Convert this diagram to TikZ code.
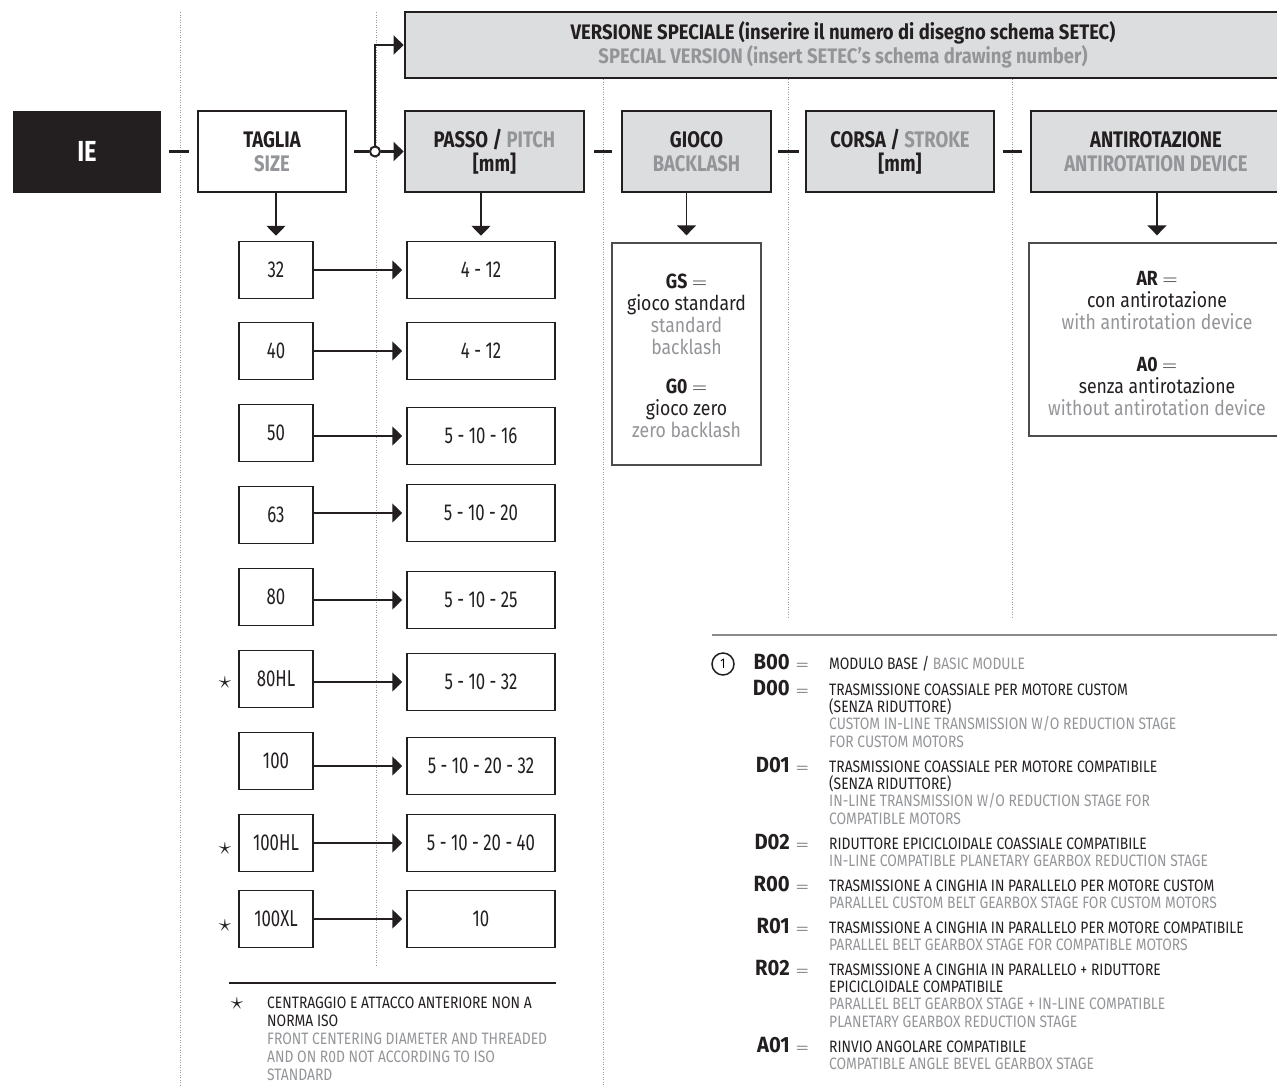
\documentclass[tikz,border=0pt]{standalone}
\usepackage{fontspec}
\setmainfont{Fira Sans}[FakeStretch=0.82]
\newfontfamily\hfont{Fira Sans}[FakeStretch=0.82]
\newfontfamily\sfont{Fira Sans}[FakeStretch=0.88]
\newfontfamily\vfont{Fira Sans}[FakeStretch=0.73]
\newfontfamily\gfont{Fira Sans}[FakeStretch=0.86]
\newfontfamily\lfont{Fira Sans}[FakeStretch=0.84]
\newfontfamily\cfont{Fira Sans}[FakeStretch=0.92]
\usetikzlibrary{arrows.meta,calc}
\definecolor{ink}{HTML}{231F20}
\definecolor{gtxt}{HTML}{939598}
\definecolor{boxfill}{HTML}{DCDDDE}
\definecolor{dotc}{HTML}{9A9A9A}
\definecolor{legc}{HTML}{8A8A8A}
\newcommand\legent[4]{%
  \node[codetxt, anchor=base east] (c#1) at (790,#3) {#2};
  \node[eqtxt, anchor=base west] (e#1) at (796,#3) {$=$};
  \node[legtxt, anchor=base west] (t#1) at (829,#3) {\parbox[t]{450pt}{\lfont\fontsize{16.5}{17.4}\selectfont\raggedright #4}};%
}
\begin{document}
\begin{tikzpicture}[x=1pt,y=-1pt,
  hdr/.style={draw=ink, line width=2.8pt, fill=boxfill, align=center, inner sep=0pt, text=ink, font=\hfont\bfseries\fontsize{22.5}{24}\selectfont},
  vbox/.style={draw=ink, line width=1.5pt, fill=white, inner sep=0pt, text=ink, font=\vfont\fontsize{23}{24}\selectfont},
  gbox/.style={draw=ink!80, line width=1.3pt, fill=white, inner sep=0pt},
  gtext/.style={align=center, inner sep=0pt, text=ink, font=\gfont\fontsize{20.5}{22}\selectfont},
  hdash/.style={draw=ink, line width=2.5pt},
  harrow/.style={draw=ink, line width=2.6pt, -{Triangle[length=10pt,width=19pt]}},
  varrow/.style={draw=ink, line width=1.6pt, -{Triangle[length=10pt,width=19pt]}},
  dotline/.style={draw=dotc, line width=0.9pt, dash pattern=on 0.9pt off 1.6pt},
  starmark/.style={inner sep=0pt, text=ink, font=\fontsize{27}{27}\selectfont},
  codetxt/.style={inner sep=0pt, text=ink, font=\cfont\bfseries\fontsize{22}{22}\selectfont},
  eqtxt/.style={inner sep=0pt, text=ink, font=\fontsize{17}{17}\selectfont},
  legtxt/.style={inner sep=0pt, text=ink}
]
\useasboundingbox (0,0) rectangle (1277,1085);

% dotted guide lines
\draw[dotline] (180,12) -- (180,1085);
\draw[dotline] (376,12) -- (376,965);
\draw[dotline] (603,79) -- (603,1085);
\draw[dotline] (788,79) -- (788,618);
\draw[dotline] (1012,79) -- (1012,618);

% header row
\node[fill=ink, minimum width=148, minimum height=82, inner sep=0pt, text=white, font=\hfont\bfseries\fontsize{29}{30}\selectfont] (ie) at (87,151.5) {IE};
\node[hdr, fill=white, minimum width=148, minimum height=81] (taglia) at (272,151.5) {TAGLIA\\{\color{gtxt}SIZE}};
\node[hdr, minimum width=179, minimum height=81] (passo) at (494.5,151.5) {PASSO / {\color{gtxt}PITCH}\\{[mm]}};
\node[hdr, minimum width=149, minimum height=81] (gioco) at (696.5,151.5) {GIOCO\\{\color{gtxt}BACKLASH}};
\node[hdr, minimum width=188, minimum height=81] (corsa) at (900,151.5) {CORSA / {\color{gtxt}STROKE}\\{[mm]}};
\node[hdr, minimum width=250, minimum height=81] (anti) at (1156,151.5) {ANTIROTAZIONE\\{\color{gtxt}ANTIROTATION DEVICE}};
\node[hdr, minimum width=876, minimum height=66, font=\sfont\bfseries\fontsize{21}{21}\selectfont] (spec) at (843,45) {VERSIONE SPECIALE (inserire il numero di disegno schema SETEC)\\{\color{gtxt}SPECIAL VERSION (insert SETEC’s schema drawing number)}};

\node[circle, draw=ink, line width=2pt, fill=white, minimum size=10pt, inner sep=0pt] (jn) at (375,151.5) {};

\draw[hdash, shorten <=8pt, shorten >=8pt] (ie) -- (taglia);
\draw[hdash, shorten <=7pt] (taglia) -- (jn);
\draw[harrow] (jn) -- (passo);
\draw[harrow] (jn) |- (spec);
\draw[hdash, shorten <=9pt, shorten >=9pt] (passo) -- (gioco);
\draw[hdash, shorten <=6pt, shorten >=6pt] (gioco) -- (corsa);
\draw[hdash, shorten <=8pt, shorten >=8pt] (corsa) -- (anti);

% size column
\foreach \n/\y/\t in {1/270/32, 2/351/40, 3/433/50, 4/515/63, 5/597/80, 6/679/80HL, 7/761/100, 8/843/100HL, 9/919/100XL}
  \node[vbox, minimum width=74, minimum height=57] (s\n) at (276,\y) {\t};
% pitch column
\foreach \n/\y/\t in {1/270/4 - 12, 2/351/4 - 12, 3/436/5 - 10 - 16, 4/513/5 - 10 - 20, 5/600/5 - 10 - 25, 6/682/5 - 10 - 32, 7/766/5 - 10 - 20 - 32, 8/843/5 - 10 - 20 - 40, 9/919/10}
  \node[vbox, minimum width=148, minimum height=57] (p\n) at (481,\y) {\t};
\foreach \n in {1,...,9}
  \draw[varrow, shorten >=4pt] (s\n.east |- p\n.west) -- (p\n.west);

% stars
\node[starmark] (st6) at (225,683) {$\star$};
\node[starmark] (st8) at (225,849) {$\star$};
\node[starmark] (st9) at (225,926) {$\star$};

% backlash and antirotation value boxes
\node[gbox, minimum width=149, minimum height=222] (gs) at (686.5,354) {};
\node[gbox, minimum width=256, minimum height=193] (ar) at (1157,339.5) {};
\node[gtext] (gst) at (686.5,314) {{\bfseries GS} $=$\\gioco standard\\{\color{gtxt}standard}\\{\color{gtxt}backlash}};
\node[gtext] (g0t) at (686.5,408.5) {{\bfseries G0} $=$\\gioco zero\\{\color{gtxt}zero backlash}};
\node[gtext] (art) at (1157,301) {{\bfseries AR} $=$\\con antirotazione\\{\color{gtxt}with antirotation device}};
\node[gtext] (a0t) at (1157,386.5) {{\bfseries A0} $=$\\senza antirotazione\\{\color{gtxt}without antirotation device}};

% down arrows
\draw[varrow, shorten >=5pt] (s1.north |- taglia.south) -- (s1.north);
\draw[varrow, shorten >=5pt] (p1.north |- passo.south) -- (p1.north);
\draw[varrow, shorten >=7pt] (gs.north |- gioco.south) -- (gs.north);
\draw[varrow, shorten >=7pt] (ar.north |- anti.south) -- (ar.north);

% footnote
\coordinate (fl1) at (229,983);
\coordinate (fl2) at (556,983);
\draw[draw=ink, line width=1.3pt] (fl1) -- (fl2);
\node[starmark] (fst) at (237,1004) {$\star$};
\node[legtxt, anchor=base west] (fnt) at (267,1008) {\parbox[t]{330pt}{\lfont\fontsize{16.5}{18}\selectfont\raggedright CENTRAGGIO E ATTACCO ANTERIORE NON A\\NORMA ISO\\{\color{gtxt}FRONT CENTERING DIAMETER AND THREADED\\AND ON R0D NOT ACCORDING TO ISO\\STANDARD}}};

% legend
\coordinate (ll1) at (712,635);
\coordinate (ll2) at (1290,635);
\draw[draw=legc, line width=2.2pt] (ll1) -- (ll2);
\node[circle, draw=ink, line width=1.5pt, minimum size=22pt, inner sep=0pt, font=\lfont\fontsize{14}{14}\selectfont] (one) at (723,664) {1};
\legent{b0}{B00}{669}{MODULO BASE / {\color{gtxt}BASIC MODULE}}
\legent{d0}{D00}{695}{TRASMISSIONE COASSIALE PER MOTORE CUSTOM\\(SENZA RIDUTTORE)\\{\color{gtxt}CUSTOM IN-LINE TRANSMISSION W/O REDUCTION STAGE\\FOR CUSTOM MOTORS}}
\legent{d1}{D01}{772}{TRASMISSIONE COASSIALE PER MOTORE COMPATIBILE\\(SENZA RIDUTTORE)\\{\color{gtxt}IN-LINE TRANSMISSION W/O REDUCTION STAGE FOR\\COMPATIBLE MOTORS}}
\legent{d2}{D02}{849}{RIDUTTORE EPICICLOIDALE COASSIALE COMPATIBILE\\{\color{gtxt}IN-LINE COMPATIBLE PLANETARY GEARBOX REDUCTION STAGE}}
\legent{r0}{R00}{891}{TRASMISSIONE A CINGHIA IN PARALLELO PER MOTORE CUSTOM\\{\color{gtxt}PARALLEL CUSTOM BELT GEARBOX STAGE FOR CUSTOM MOTORS}}
\legent{r1}{R01}{933}{TRASMISSIONE A CINGHIA IN PARALLELO PER MOTORE COMPATIBILE\\{\color{gtxt}PARALLEL BELT GEARBOX STAGE FOR COMPATIBLE MOTORS}}
\legent{r2}{R02}{975}{TRASMISSIONE A CINGHIA IN PARALLELO + RIDUTTORE\\EPICICLOIDALE COMPATIBILE\\{\color{gtxt}PARALLEL BELT GEARBOX STAGE + IN-LINE COMPATIBLE\\PLANETARY GEARBOX REDUCTION STAGE}}
\legent{a1}{A01}{1052}{RINVIO ANGOLARE COMPATIBILE\\{\color{gtxt}COMPATIBLE ANGLE BEVEL GEARBOX STAGE}}
\end{tikzpicture}
\end{document}
